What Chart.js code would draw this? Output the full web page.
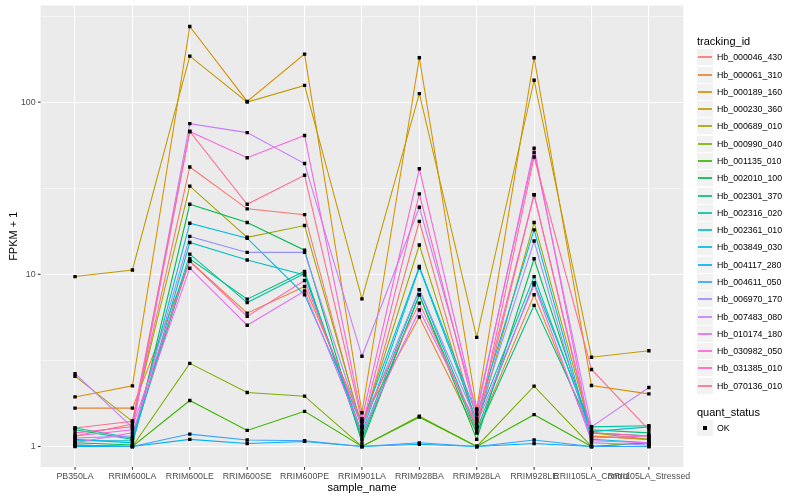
<!DOCTYPE html>
<html>
<head>
<meta charset="utf-8">
<script src="https://cdn.jsdelivr.net/npm/chart.js@4.4.0/dist/chart.umd.min.js"></script>
<style>
html,body{margin:0;padding:0;background:#fff;}
#wrap{position:relative;width:800px;height:500px;font-family:"Liberation Sans",Arial,Helvetica,sans-serif;overflow:hidden;}
#c{position:absolute;left:0;top:0;}
.ltitle{position:absolute;left:697px;font-size:11px;line-height:12px;color:#000;white-space:nowrap;}
.item{position:absolute;left:697px;height:17px;width:100px;}
.key{position:absolute;left:0;top:0;width:16px;height:16px;background:#F2F2F2;}
.kline{position:absolute;left:1px;top:7px;width:14px;height:2px;opacity:0.85;}
.kpt{position:absolute;left:6px;top:6px;width:4px;height:4px;background:#000;}
.ltext{position:absolute;left:20px;top:-0.5px;line-height:17px;font-size:8.8px;color:#000;white-space:nowrap;}
</style>
</head>
<body>
<div id="wrap">
<canvas id="c" width="800" height="500"></canvas>
</div>
<script>
const categories = ["PB350LA","RRIM600LA","RRIM600LE","RRIM600SE","RRIM600PE","RRIM901LA","RRIM928BA","RRIM928LA","RRIM928LE","RRII105LA_Control","RRII105LA_Stressed"];

const seriesNames = ["Hb_000046_430","Hb_000061_310","Hb_000189_160","Hb_000230_360","Hb_000689_010","Hb_000990_040","Hb_001135_010","Hb_002010_100","Hb_002301_370","Hb_002316_020","Hb_002361_010","Hb_003849_030","Hb_004117_280","Hb_004611_050","Hb_006970_170","Hb_007483_080","Hb_010174_180","Hb_030982_050","Hb_031385_010","Hb_070136_010"];

const seriesColors = ["#F8766D","#EA8331","#D89000","#C09B00","#A3A500","#7CAE00","#39B600","#00BB4E","#00BF7D","#00C1A3","#00BFC4","#00BAE0","#00B0F6","#35A2FF","#9590FF","#C77CFF","#E76BF3","#FA62DB","#FF62BC","#FF6C91"];

const s01 = [1.15, 1.35, 42, 24.0, 22.2, 1.25, 20.3, 1.3, 29, 1.15, 1.1];
const s02 = [1.67, 1.67, 11.9, 5.95, 8.5, 1.4, 5.65, 1.2, 7.6, 1.15, 1.1];
const s03 = [1.94, 2.25, 275, 101, 190, 1.57, 181, 1.65, 181, 2.26, 2.02];
const s04 = [9.7, 10.6, 185, 100, 125, 7.2, 112, 4.3, 134, 3.3, 3.6];
const s05 = [2.56, 1.40, 32.5, 16.4, 19.2, 1.3, 14.8, 1.3, 20.0, 1.2, 1.1];
const s06 = [1.01, 1.0, 3.04, 2.06, 1.96, 1.0, 1.50, 1.0, 2.24, 1.0, 1.05];
const s07 = [1.02, 1.0, 1.85, 1.24, 1.60, 1.0, 1.48, 1.0, 1.53, 1.0, 1.05];
const s08 = [1.05, 1.02, 25.5, 20.0, 13.8, 1.05, 7.6, 1.1, 12.3, 1.2, 1.15];
const s09 = [1.25, 1.1, 12.3, 7.17, 10.4, 1.1, 7.6, 1.2, 6.6, 1.25, 1.2];
const s10 = [1.28, 1.12, 13.1, 6.85, 10.1, 1.15, 8.15, 1.25, 8.95, 1.3, 1.32];
const s11 = [1.1, 1.05, 15.3, 12.1, 9.9, 1.2, 10.9, 1.42, 9.7, 1.22, 1.3];
const s12 = [1.08, 1.08, 19.8, 16.2, 7.6, 1.35, 11.1, 1.52, 18.1, 1.1, 1.05];
const s13 = [1.0, 1.0, 1.10, 1.04, 1.07, 1.0, 1.03, 1.0, 1.04, 1.0, 1.0];
const s14 = [1.02, 1.0, 1.18, 1.09, 1.08, 1.0, 1.05, 1.0, 1.09, 1.0, 1.0];
const s15 = [1.12, 1.15, 16.6, 13.4, 13.4, 1.3, 8.15, 1.4, 15.6, 1.05, 1.02];
const s16 = [2.65, 1.29, 75, 66.5, 44, 3.34, 24.5, 1.62, 51, 1.3, 2.2];
const s17 = [1.05, 1.2, 10.85, 5.06, 8.0, 1.2, 6.2, 1.35, 8.7, 1.08, 1.05];
const s18 = [1.15, 1.25, 67.5, 47.5, 64, 1.45, 41, 1.55, 54, 1.12, 1.15];
const s19 = [1.2, 1.3, 11.9, 5.7, 9.2, 1.3, 29.3, 1.45, 29, 1.2, 1.15];
const s20 = [1.28, 1.40, 67.5, 25.5, 37.6, 1.4, 6.8, 1.3, 48, 2.8, 1.25];

const seriesValues = [s01,s02,s03,s04,s05,s06,s07,s08,s09,s10,s11,s12,s13,s14,s15,s16,s17,s18,s19,s20];

const yMajorTicks = [1, 10, 100];
const yMinorTicks = [3.1623, 31.623, 316.23];
const statusLabels = ["OK"];

const FAMILY = '"Liberation Sans", Arial, Helvetica, sans-serif';

const datasets = seriesValues.map((vals, i) => ({
  label: seriesNames[i],
  data: vals.map((v, j) => ({x: j, y: v})),
  borderColor: seriesColors[i],
  backgroundColor: seriesColors[i],
  borderWidth: 1.07,
  pointRadius: 0,
  pointHoverRadius: 0,
  fill: false,
  tension: 0,
  order: seriesValues.length - i
}));
datasets.push({
  label: statusLabels[0],
  data: seriesValues.flatMap(vals => vals.map((v, j) => ({x: j, y: v}))),
  showLine: false,
  pointStyle: 'rect',
  pointRadius: 2.4,
  pointHoverRadius: 2.4,
  pointBackgroundColor: '#000000',
  pointBorderColor: '#000000',
  pointBorderWidth: 0,
  borderColor: '#000000',
  order: 0
});

const panelPlugin = {
  id: 'panel',
  beforeDraw(chart) {
    const {ctx, chartArea: a} = chart;
    ctx.save();
    ctx.fillStyle = '#EBEBEB';
    ctx.fillRect(a.left, a.top, a.right - a.left, a.bottom - a.top);
    ctx.restore();
  },
  afterDraw(chart) {
    const {ctx, chartArea: a, scales} = chart;
    ctx.save();
    ctx.strokeStyle = '#333333';
    ctx.lineWidth = 1.07;
    categories.forEach((c, i) => {
      const px = scales.x.getPixelForValue(i);
      ctx.beginPath(); ctx.moveTo(px, a.bottom); ctx.lineTo(px, a.bottom + 2.75); ctx.stroke();
    });
    yMajorTicks.forEach(v => {
      const py = scales.y.getPixelForValue(v);
      ctx.beginPath(); ctx.moveTo(a.left - 2.75, py); ctx.lineTo(a.left, py); ctx.stroke();
    });
    ctx.restore();
  }
};

new Chart(document.getElementById('c'), {
  type: 'line',
  data: {datasets},
  plugins: [panelPlugin],
  options: {
    responsive: false,
    animation: false,
    events: [],
    layout: {padding: {left: 0, right: 116.7, top: 5.5, bottom: 0}},
    plugins: {legend: {display: false}, tooltip: {enabled: false}},
    scales: {
      x: {
        type: 'linear',
        min: -0.6, max: 10.6,
        bounds: 'data',
        afterBuildTicks: s => { s.ticks = categories.map((c, i) => ({value: i})); },
        afterFit: s => { s.height = 33; s.paddingLeft = 0; s.paddingRight = 0; },
        grid: {color: '#FFFFFF', lineWidth: 1.07, drawTicks: false},
        border: {display: false},
        ticks: {
          autoSkip: false, maxRotation: 0, minRotation: 0, padding: 4.5,
          color: '#4D4D4D', font: {size: 8.8, family: FAMILY},
          callback: v => (categories[v] !== undefined ? categories[v] : '')
        },
        title: {display: true, text: 'sample_name', color: '#000000', font: {size: 11, family: FAMILY}, padding: {top: 0, bottom: 5.4}}
      },
      y: {
        type: 'logarithmic',
        min: 0.76, max: 364,
        bounds: 'data',
        afterBuildTicks: s => { s.ticks = yMajorTicks.concat(yMinorTicks).sort((a, b) => a - b).map(v => ({value: v})); },
        afterFit: s => { s.width = 40.6; s.paddingTop = 0; s.paddingBottom = 0; },
        grid: {
          color: '#FFFFFF', drawTicks: false,
          lineWidth: ctx => (ctx.tick && yMajorTicks.includes(ctx.tick.value)) ? 1.07 : 0.53
        },
        border: {display: false},
        ticks: {
          padding: 5, color: '#4D4D4D', font: {size: 8.8, family: FAMILY},
          callback: v => (yMajorTicks.includes(v) ? String(v) : '')
        },
        title: {display: true, text: 'FPKM + 1', color: '#000000', font: {size: 11, family: FAMILY}, padding: {top: 7, bottom: 0}}
      }
    }
  }
});

// legend (HTML text)
const wrap = document.getElementById('wrap');
function addTitle(text, top) {
  const d = document.createElement('div');
  d.className = 'ltitle'; d.style.top = top + 'px'; d.textContent = text;
  wrap.appendChild(d);
}
addTitle('tracking_id', 34.7);
seriesNames.forEach((name, i) => {
  const it = document.createElement('div');
  it.className = 'item'; it.style.top = Math.round(49.3 + i * 17.28) + 'px';
  const k = document.createElement('div'); k.className = 'key';
  const l = document.createElement('div'); l.className = 'kline'; l.style.background = seriesColors[i];
  k.appendChild(l);
  const t = document.createElement('div'); t.className = 'ltext'; t.textContent = name;
  it.appendChild(k); it.appendChild(t);
  wrap.appendChild(it);
});
addTitle('quant_status', 405.7);
statusLabels.forEach((name, i) => {
  const it = document.createElement('div');
  it.className = 'item'; it.style.top = Math.round(420 + i * 17.28) + 'px';
  const k = document.createElement('div'); k.className = 'key';
  const p = document.createElement('div'); p.className = 'kpt';
  k.appendChild(p);
  const t = document.createElement('div'); t.className = 'ltext'; t.textContent = name;
  it.appendChild(k); it.appendChild(t);
  wrap.appendChild(it);
});
</script>
</body>
</html>
